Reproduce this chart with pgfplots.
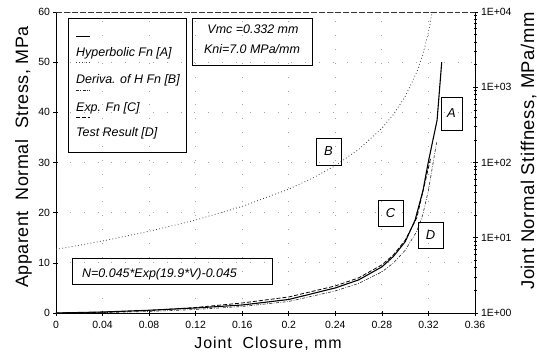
\documentclass[border=0pt]{standalone}
\usepackage{fontspec}
\setmainfont{Liberation Sans}
\usepackage{pgfplots}
\pgfplotsset{compat=1.18}
\begin{document}
\begin{tikzpicture}
\pgfplotsset{
  mybase/.style={
    scale only axis, width=419bp, height=301bp,
    xmin=0, xmax=0.36,
    tick align=center,
    major tick length=5bp, minor tick length=3bp,
    tick style={black, line width=0.6pt},
    axis line style={-, line width=0.7pt, black},
    ticklabel style={font=\fontsize{10.5}{12}\selectfont},
  }
}
\begin{axis}[
  mybase,
  ymin=0, ymax=60,
  axis x line*=bottom, axis y line*=left,
  xtick={0,0.04,0.08,0.12,0.16,0.2,0.24,0.28,0.32,0.36},
  xticklabels={0,0.04,0.08,0.12,0.16,0.2,0.24,0.28,0.32,0.36},
  xticklabel style={yshift=-2bp},
  ytick={0,10,20,30,40,50,60},
  yticklabels={0,10,20,30,40,50,60},
  grid=major,
  grid style={gray!70, line width=0.9pt, dash pattern=on 0.9pt off 13pt},
  xlabel={Joint\ \ Closure, mm},
  ylabel={Apparent\ \ Normal\ \ Stress, MPa},
  xlabel style={at={(axis description cs:0.506,-0.1163)}, anchor=base,
    font=\addfontfeature{LetterSpace=6}\fontsize{16}{19}\selectfont},
  ylabel style={at={(axis description cs:-0.0668,0.518)}, anchor=base,
    font=\addfontfeature{LetterSpace=3}\fontsize{18}{21}\selectfont},
]
% A: Hyperbolic Fn (solid)
\addplot[black, line width=1.1pt] coordinates {
 (0,0) (0.04,0.2) (0.08,0.55) (0.12,1.0) (0.16,1.6) (0.2,2.7) (0.24,5.0)
 (0.26,6.6) (0.28,9.2) (0.29,11.3) (0.30,14.2) (0.3085,18.5) (0.3154,24.5)
 (0.3197,29.9) (0.3274,38.4) (0.3314,50)
};
% C: Exp. Fn (dash-dot)
\addplot[black!85, line width=0.6pt, dash pattern=on 3pt off 1.5pt on 0.7pt off 1.5pt] coordinates {
 (0,0) (0.04,0.08) (0.08,0.3) (0.12,0.7) (0.16,1.3) (0.2,2.3) (0.24,4.4)
 (0.26,5.9) (0.28,8.2) (0.29,10.0) (0.30,12.5) (0.31,16.3) (0.315,19.5)
 (0.32,24.5) (0.327,34)
};
% D: Test Result (dashed)
\addplot[black, line width=0.8pt, dash pattern=on 4pt off 2pt] coordinates {
 (0,0) (0.04,0.15) (0.08,0.5) (0.12,1.1) (0.16,2.0) (0.2,3.2) (0.24,5.4)
 (0.26,7.0) (0.28,9.6) (0.29,11.6) (0.30,14.5) (0.31,19) (0.322,31)
};
\coordinate (P0) at (rel axis cs:0,0);
\end{axis}
\begin{axis}[
  mybase,
  ymode=log, ymin=1, ymax=10000,
  axis x line=none, axis y line*=right,
  ytick={1,10,100,1000,10000},
  yticklabels={1E+00,1E+01,1E+02,1E+03,1E+04},
  ylabel={Joint Normal Stiffness, MPa/mm},
  ylabel style={at={(axis description cs:1.1408,0.538)}, anchor=base,
    font=\addfontfeature{LetterSpace=3}\fontsize{18.5}{21}\selectfont},
]
% B: Derivative of H Fn (dotted)
\addplot[black!75, line width=0.8pt, dash pattern=on 0.8pt off 2.4pt] coordinates {
 (0,7.0) (0.04,9.05) (0.08,12.2) (0.12,17.2) (0.16,26.1) (0.2,44.3)
 (0.22,61.5) (0.24,91) (0.26,149) (0.28,285) (0.29,437) (0.30,753)
 (0.31,1594) (0.315,2670) (0.32,5360) (0.3232,10000)
};
\end{axis}
\begin{scope}[x=1bp, y=-1bp, shift={(P0)}, shift={(-56,-313)}]
  % top frame line (dashed)
  \draw[black!80, line width=0.6pt, dash pattern=on 6pt off 2pt] (56,12) -- (475,12);
  % legend box
  \draw[black, line width=0.6pt] (68,18) rectangle (186,152);
  \draw[black, line width=0.9pt] (76,36) -- (90,36);
  \draw[black!75, line width=0.8pt, dash pattern=on 0.8pt off 2.4pt] (76,62) -- (90,62);
  \draw[black!85, line width=0.6pt, dash pattern=on 3pt off 1.5pt on 0.7pt off 1.5pt] (76,90) -- (90,90);
  \draw[black, line width=0.8pt, dash pattern=on 4pt off 2pt] (76,117) -- (90,117);
  \begin{scope}[every node/.style={font=\itshape\fontsize{12.5}{14}\selectfont, anchor=base west, inner sep=0pt}]
    \node at (76,56) {Hyperbolic Fn [A]};
    \node at (76,83) {Deriva. of H Fn [B]};
    \node at (76,111) {Exp. Fn [C]};
    \node at (76,136) {Test Result [D]};
  \end{scope}
  % Vmc box
  \draw[black, line width=0.6pt] (192,18) rectangle (312,65);
  \begin{scope}[every node/.style={font=\itshape\fontsize{12.5}{14}\selectfont, anchor=base, inner sep=0pt}]
    \node at (253,33) {Vmc =0.332 mm};
    \node at (252,53) {Kni=7.0 MPa/mm};
    \node[anchor=base west] at (82,277) {N=0.045*Exp(19.9*V)-0.045};
  \end{scope}
  \draw[black, line width=0.6pt] (72,258) rectangle (272,284);
  % curve label boxes
  \begin{scope}[every node/.style={font=\itshape\fontsize{13}{15}\selectfont, inner sep=0pt}]
    \draw[black, line width=0.6pt] (441,97) rectangle (462,130);
    \node at (451.5,113.5) {A};
    \draw[black, line width=0.6pt] (316,138) rectangle (341,165);
    \node at (328.5,151.5) {B};
    \draw[black, line width=0.6pt] (378,200) rectangle (403,226);
    \node at (390.5,213) {C};
    \draw[black, line width=0.6pt] (418,222) rectangle (443,248);
    \node at (430.5,235) {D};
  \end{scope}
  \pgfresetboundingbox
  \path[use as bounding box] (0,0) rectangle (537,354);
\end{scope}
\end{tikzpicture}
\end{document}
